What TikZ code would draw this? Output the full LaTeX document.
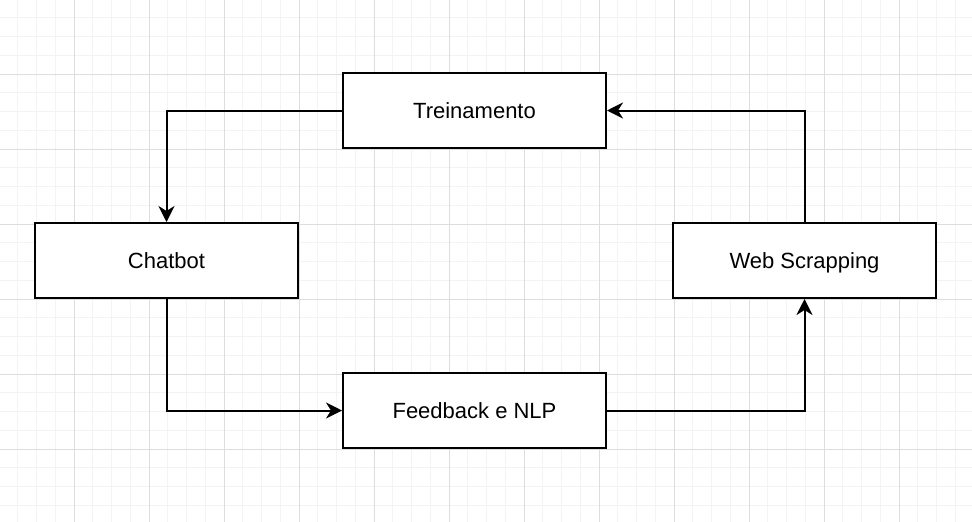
\documentclass[tikz,border=0pt]{standalone}
\usepackage{fontspec}
\setmainfont{Liberation Sans}
\usetikzlibrary{arrows.meta}
\definecolor{minorgrid}{HTML}{F3F3F3}
\definecolor{majorgrid}{HTML}{DDDDDD}
\tikzset{
  boxnode/.style={draw=black, line width=2pt, fill=white, minimum width=263pt, minimum height=75pt, inner sep=0pt, text height=15pt, text depth=0pt, font=\fontsize{22}{25}\selectfont},
  conn/.style={draw=black, line width=2pt, -{Stealth[length=16pt,width=16pt,inset=5pt]}},
  minorline/.style={draw=minorgrid, line width=1pt},
  majorline/.style={draw=majorgrid, line width=1pt}
}
\begin{document}
\begin{tikzpicture}[x=1pt,y=-1pt]
\fill[white] (0,0) rectangle (972,522);
\useasboundingbox (0,0) rectangle (972,522);
\foreach \i in {0,...,52} {
  \draw[minorline] ({-1+\i*18.75},0) -- ({-1+\i*18.75},522);
}
\foreach \i in {0,...,28} {
  \draw[minorline] (0,{-1+\i*18.75}) -- (972,{-1+\i*18.75});
}
\foreach \i in {0,...,13} {
  \draw[majorline] ({-1+\i*75},0) -- ({-1+\i*75},522);
}
\foreach \i in {0,...,7} {
  \draw[majorline] (0,{-1+\i*75}) -- (972,{-1+\i*75});
}
\node[boxnode] (trein) at (474.5,110.5) {Treinamento};
\node[boxnode] (chat) at (166.5,260.5) {Chatbot};
\node[boxnode] (web) at (804.5,260.5) {Web Scrapping};
\node[boxnode] (feed) at (474.5,410.5) {Feedback e NLP};
\draw[conn] (trein.west) -| (chat.north);
\draw[conn] (chat.south) |- (feed.west);
\draw[conn] (feed.east) -| (web.south);
\draw[conn] (web.north) |- (trein.east);
\end{tikzpicture}
\end{document}
